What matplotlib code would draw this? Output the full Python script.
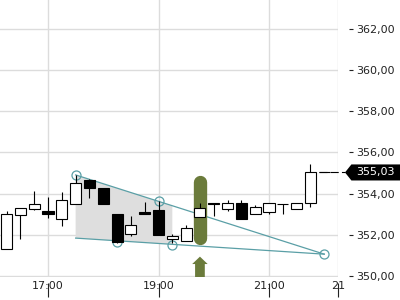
import matplotlib
matplotlib.use("Agg")
import matplotlib.pyplot as plt
import matplotlib.transforms as mtransforms
from matplotlib.patches import Polygon
import numpy as np

# ---------------- data ----------------
times = ["16:15", "16:30", "16:45", "17:00", "17:15", "17:30", "17:45", "18:00",
         "18:15", "18:30", "18:45", "19:00", "19:15", "19:30", "19:45", "20:00",
         "20:15", "20:30", "20:45", "21:00", "21:15", "21:30", "21:45", "22:00"]
opens = [351.31, 352.94, 353.25, 353.17, 352.76, 353.49, 354.67, 354.28,
         353.02, 352.03, 353.13, 353.21, 351.79, 351.71, 352.86, 353.54,
         353.25, 353.54, 353.02, 353.13, 353.49, 353.25, 353.54, 355.03]
closes = [353.00, 353.30, 353.49, 353.00, 353.68, 354.51, 354.27, 353.52,
          351.67, 352.47, 353.03, 351.99, 351.94, 352.33, 353.28, 353.49,
          353.54, 352.76, 353.34, 353.54, 353.50, 353.54, 355.07, 355.03]
highs = [353.18, 353.32, 354.14, 353.84, 354.07, 354.91, 354.70, 354.28,
         353.02, 352.92, 353.59, 353.65, 352.05, 352.49, 353.54, 353.54,
         353.67, 353.70, 353.44, 353.54, 353.50, 353.54, 355.45, 355.03]
lows = [351.31, 351.81, 353.21, 352.84, 352.45, 353.49, 353.81, 353.52,
        351.60, 351.95, 353.03, 351.99, 351.60, 351.71, 352.86, 352.89,
        353.17, 352.76, 353.02, 353.02, 353.02, 353.25, 353.33, 355.03]

upper_times = ["17:30", "22:00"]
upper_vals = [354.91, 351.06]
lower_times = ["17:30", "22:00"]
lower_vals = [351.84, 351.06]
pivot_times = ["17:30", "18:15", "19:00", "19:15", "22:00"]
pivot_vals = [354.91, 351.66, 353.63, 351.52, 351.06]
zone_times = ["17:30", "19:15"]
signal_time = "19:45"
signal_range = [351.54, 354.89]
last_price = 355.03

x_tick_times = ["17:00", "19:00", "21:00"]
x_tick_labels = ["17:00", "19:00", "21:00", "21"]
y_ticks = [350, 352, 354, 356, 358, 360, 362]


def hours(s):
    h, m = s.split(":")
    return int(h) + int(m) / 60.0


t = np.array([hours(s) for s in times])
o = np.array(opens)
c = np.array(closes)
hi = np.array(highs)
lo = np.array(lows)

# ---------------- figure ----------------
fig = plt.figure(figsize=(4, 3), dpi=100)
ax = fig.add_axes([0, 1 - 277 / 300, 338 / 400, 277 / 300])
xmin, xmax = 16.131, 22.249
ax.set_xlim(xmin, xmax)
ax.set_ylim(349.95, 363.41)

grid_c = "#dcdcdc"
for s in ax.spines.values():
    s.set_visible(False)

# grid
ax.set_yticks(y_ticks)
ax.set_yticklabels([f"{v:.2f}".replace(".", ",") for v in y_ticks])
ax.set_xticks([hours(s) for s in x_tick_times] + [xmax])
ax.set_xticklabels(x_tick_labels)
ax.grid(True, color=grid_c, linewidth=1.0, zorder=0)
ax.set_axisbelow(True)

ax.yaxis.tick_right()
ax.spines["right"].set_position(("outward", 8))
ax.tick_params(axis="y", direction="out", length=3, width=0.8, pad=2.2,
               labelsize=8, colors="#222222")
ax.spines["bottom"].set_position(("outward", 4.3))
ax.tick_params(axis="x", direction="out", length=10, width=0.8, pad=-11.5,
               labelsize=8, colors="#222222")

# shaded zone between wedge lines
ut = [hours(s) for s in upper_times]
lt = [hours(s) for s in lower_times]
z0, z1 = hours(zone_times[0]), hours(zone_times[1])
poly = [(z0, np.interp(z0, ut, upper_vals)), (z1, np.interp(z1, ut, upper_vals)),
        (z1, np.interp(z1, lt, lower_vals)), (z0, np.interp(z0, lt, lower_vals))]
ax.add_patch(Polygon(poly, closed=True, facecolor="#dedede", edgecolor="none", zorder=1))

teal = "#5a9fa6"
ax.plot(ut, upper_vals, color=teal, lw=0.9, zorder=2)
ax.plot(lt, lower_vals, color=teal, lw=0.9, zorder=2)
ax.plot([hours(s) for s in pivot_times], pivot_vals, "o", ms=6.5, mfc="none",
        mec=teal, mew=0.9, zorder=2)

# signal bar (rounded) and arrow
green = "#6b7b3b"
st = hours(signal_time)
cap = 6.7 / 20.58
ax.plot([st, st], [signal_range[0] + cap, signal_range[1] - cap], color=green,
        lw=9.6, solid_capstyle="round", zorder=3)
aw_head, aw_shaft = 0.14, 0.088
a_top, a_neck, a_bot = 350.94, 350.58, 349.94
arrow = [(st, a_top), (st + aw_head, a_neck), (st + aw_shaft, a_neck),
         (st + aw_shaft, a_bot), (st - aw_shaft, a_bot), (st - aw_shaft, a_neck),
         (st - aw_head, a_neck)]
ax.add_patch(Polygon(arrow, closed=True, facecolor=green, edgecolor="none", zorder=3))

# candles
ax.vlines(t, lo, hi, color="black", lw=0.8, zorder=4)
up = c >= o
body_col = np.where(up, "white", "black")
ax.bar(t, c - o, bottom=o, width=0.2, color=body_col, edgecolor="black",
       linewidth=0.8, zorder=5)

# last price dashed line and label
ax.plot([t[-1] - 0.1, 22.375], [last_price, last_price], color="black", lw=0.8,
        dashes=(7.2, 2.9), clip_on=False, zorder=5)
tr = mtransforms.blended_transform_factory(fig.transFigure, ax.transData)
hh = 0.39
tag = [(0.8625, last_price), (0.8785, last_price + hh), (1.0, last_price + hh),
       (1.0, last_price - hh), (0.8785, last_price - hh)]
fig.patches.append(Polygon(tag, closed=True, facecolor="black", edgecolor="none",
                           transform=tr, figure=fig))
fig.text(0.89, last_price, f"{last_price:.2f}".replace(".", ","), transform=tr,
         color="white", fontsize=8, va="center", ha="left")

fig.savefig("out.png", dpi=100)
